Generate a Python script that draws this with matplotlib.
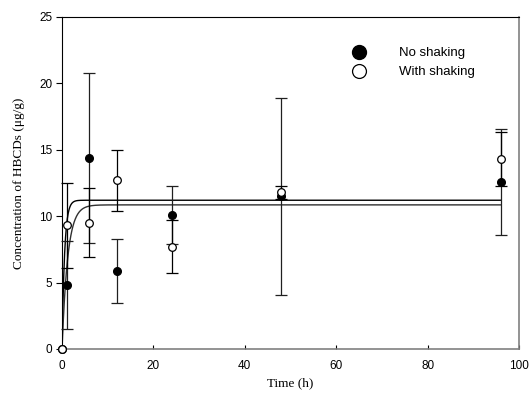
import numpy as np
import matplotlib
matplotlib.use('Agg')
import matplotlib.pyplot as plt
from matplotlib.lines import Line2D

time = [0, 1, 6, 12, 24, 48, 96]
no_shake = [0, 4.8, 14.4, 5.9, 10.1, 11.5, 12.6]
no_shake_err = [np.nan, 3.3, 6.4, 2.4, 2.2, 7.4, 4.0]
with_shake = [0, 9.3, 9.5, 12.7, 7.7, 11.8, 14.3]
with_shake_err = [np.nan, 3.2, 2.6, 2.3, 2.0, 0.5, 2.0]

# first-order fit parameters (plateau, rate constant)
fit_fast = (11.2, 1.8)
fit_slow = (10.85, 0.8)

fig = plt.figure(figsize=(5.31, 4.03), dpi=100)
ax = fig.add_axes([0.1168, 0.134, 0.8606, 0.824])

tt = np.linspace(0, 96, 2000)
ax.plot(tt, fit_fast[0] * (1 - np.exp(-fit_fast[1] * tt)), color='black', lw=1.0, zorder=2)
ax.plot(tt, fit_slow[0] * (1 - np.exp(-fit_slow[1] * tt)), color='#303030', lw=1.0, zorder=2)

ax.errorbar(time, no_shake, yerr=no_shake_err, fmt='o', color='black', ecolor='#202020',
            ms=5.5, mfc='black', mec='black', elinewidth=0.9, capsize=4, capthick=0.9,
            zorder=3, clip_on=False)
ax.errorbar(time, with_shake, yerr=with_shake_err, fmt='o', color='black', ecolor='black',
            ms=5.5, mfc='white', mec='black', mew=0.9, elinewidth=0.9, capsize=4, capthick=0.9,
            zorder=4, clip_on=False)

ax.set_xlim(0, 100)
ax.set_ylim(0, 25)
ax.set_xticks([0, 20, 40, 60, 80, 100])
ax.set_yticks([0, 5, 10, 15, 20, 25])

for s in ['top', 'left']:
    ax.spines[s].set_color('black')
for s in ['bottom', 'right']:
    ax.spines[s].set_color('#808080')
    ax.spines[s].set_linewidth(1.2)

ax.tick_params(axis='x', direction='in', length=3, labelsize=8.5, pad=8, color='black')
ax.tick_params(axis='y', direction='out', length=4, labelsize=8.5, pad=3)
for lab in ax.get_xticklabels() + ax.get_yticklabels():
    lab.set_fontfamily('Liberation Sans')

ax.set_xlabel('Time (h)', fontfamily='Liberation Serif', fontsize=9.5, labelpad=4)
ax.set_ylabel('Concentration of HBCDs (μg/g)', fontfamily='Liberation Serif', fontsize=9.5, labelpad=10)

handles = [Line2D([], [], ls='none', marker='o', ms=10, mfc='black', mec='black'),
           Line2D([], [], ls='none', marker='o', ms=10, mfc='white', mec='black', mew=0.9)]
leg = ax.legend(handles, ['No shaking', 'With shaking'], loc='upper left',
                bbox_to_anchor=(0.595, 0.945), frameon=False, handletextpad=2.0,
                labelspacing=0.5, prop={'family': 'Liberation Sans', 'size': 9.5})

fig.savefig('out.png', dpi=100)
